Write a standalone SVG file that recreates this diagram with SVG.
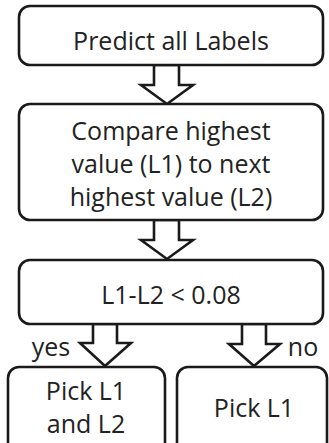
<svg xmlns="http://www.w3.org/2000/svg" width="329" height="443" viewBox="0 0 329 443">
<style>
.box{fill:#fff;stroke:#1a1a1a;stroke-width:2.6}
.arr{fill:#fff;stroke:#1a1a1a;stroke-width:2.6;stroke-linejoin:miter}
text{font-family:"Open Sans","Liberation Sans",sans-serif;font-size:25px;fill:#222;text-anchor:middle}
</style>
<rect width="329" height="443" fill="#fff"/>
<g id="connectors">
<polygon class="arr" points="154,65 179,65 179,85 193,85 167,104 141,85 154,85"/>
<polygon class="arr" points="154,220 179,220 179,240 193,240 167,259 141,240 154,240"/>
<polygon class="arr" points="93,324 117,324 117,343 131,343 105,366 80,343 93,343"/>
<polygon class="arr" points="242,324 266,324 266,344 280,344 254,366 229,344 242,344"/>
<text x="51" y="356">yes</text>
<text x="303" y="356">no</text>
</g>
<g id="n1">
<rect class="box" x="19" y="6" width="304" height="59" rx="11"/>
<text x="171" y="50">Predict all Labels</text>
</g>
<g id="n2">
<rect class="box" x="19" y="104" width="304" height="116" rx="11"/>
<text x="171" y="140">Compare highest</text>
<text x="171" y="173">value (L1) to next</text>
<text x="171" y="206">highest value (L2)</text>
</g>
<g id="n3">
<rect class="box" x="19" y="260" width="304" height="64" rx="11"/>
<text x="171" y="304">L1-L2 &lt; 0.08</text>
</g>
<g id="n4">
<rect class="box" x="8" y="367" width="157" height="90" rx="11"/>
<text x="86" y="400">Pick L1</text>
<text x="86" y="433">and L2</text>
</g>
<g id="n5">
<rect class="box" x="177" y="367" width="150" height="90" rx="11"/>
<text x="254" y="417">Pick L1</text>
</g>
</svg>
